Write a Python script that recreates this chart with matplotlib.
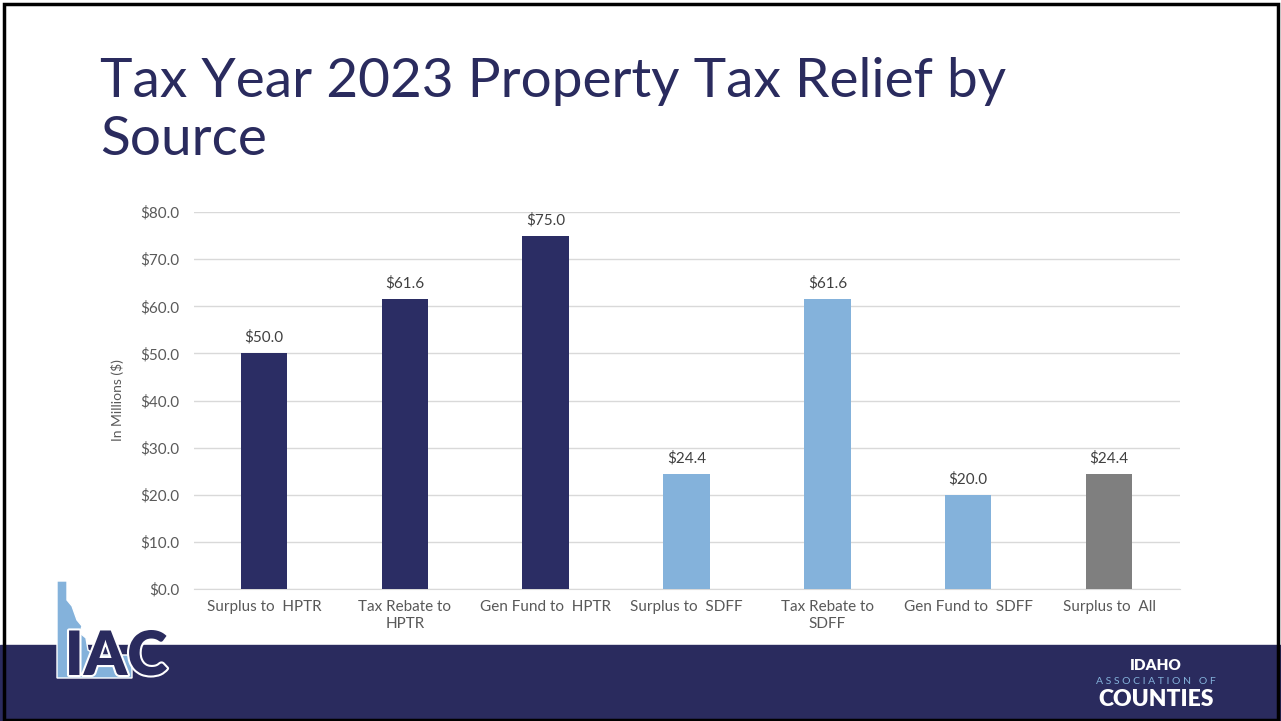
import numpy as np
import matplotlib.pyplot as plt
from matplotlib.patches import Rectangle, Polygon
import matplotlib.patheffects as pe

plt.rcParams['font.family'] = ['Lato', 'DejaVu Sans']

# dati del grafico
categorie = ["Surplus to  HPTR", "Tax Rebate to\nHPTR", "Gen Fund to  HPTR", "Surplus to  SDFF",
             "Tax Rebate to\nSDFF", "Gen Fund to  SDFF", "Surplus to  All"]
valori = [50.0, 61.6, 75.0, 24.4, 61.6, 20.0, 24.4]
colori = ['#2b2d64', '#2b2d64', '#2b2d64', '#84b2db', '#84b2db', '#84b2db', '#7f7f7f']
tick_y = [0, 10, 20, 30, 40, 50, 60, 70, 80]

navy = '#2a2b5e'
grigio = '#595959'

fig = plt.figure(figsize=(12.81, 7.21), dpi=100)
fig.patch.set_facecolor('white')

# banda in basso
fig.add_artist(Rectangle((0, 0), 1, 76 / 721, transform=fig.transFigure, color=navy, zorder=0))
# bordo
fig.add_artist(Rectangle((0.003, 0.001), 0.995, 0.993, transform=fig.transFigure, fill=False,
                         edgecolor='black', linewidth=2.5, zorder=5))

# titolo
fig.text(100 / 1281, 1 - 97 / 721, "Tax Year 2023 Property Tax Relief by", fontsize=39.6,
         color=navy, ha='left', va='baseline')
fig.text(100 / 1281, 1 - 155 / 721, "Source", fontsize=39.6, color=navy, ha='left', va='baseline')

ax = fig.add_axes([193.5 / 1281, 1 - 589 / 721, 986 / 1281, 377 / 721])
x = np.arange(len(categorie))
barre = ax.bar(x, valori, width=0.33, color=colori, zorder=3)
for b, v in zip(barre, valori):
    ax.text(b.get_x() + b.get_width() / 2, v + 1.8, f"${v:.1f}", ha='center', va='bottom',
            fontsize=11, color='#404040')

ax.set_xlim(-0.5, len(categorie) - 0.5)
ax.set_ylim(0, 80)
ax.set_yticks(tick_y)
ax.set_yticklabels([f"${t:.1f}" for t in tick_y], fontsize=11, color=grigio)
ax.set_xticks(x)
ax.set_xticklabels(categorie, fontsize=11, color=grigio, linespacing=1.3)
ax.tick_params(length=0, pad=10)
ax.tick_params(axis='x', pad=8)
ax.grid(axis='y', color='#d9d9d9', linewidth=1, zorder=0)
for s in ['top', 'right', 'left']:
    ax.spines[s].set_visible(False)
ax.spines['bottom'].set_color('#d9d9d9')
ax.set_ylabel("In Millions ($)", fontsize=10, color=grigio, labelpad=12)

# logo IAC (sagoma Idaho)
idaho = [(57, 581), (67, 581), (67, 600), (72, 606), (77, 620), (82, 626), (80, 633), (86, 638),
         (88, 650), (96, 655), (132, 655), (132, 678), (57, 678)]
fig.add_artist(Polygon([(px / 1281, 1 - py / 721) for px, py in idaho], closed=True,
                       transform=fig.transFigure, facecolor='#84b2db', edgecolor='white',
                       linewidth=1, zorder=6))
t = fig.text(116 / 1281, 1 - 657 / 721, "IAC", fontsize=44, fontweight='heavy', color=navy,
             ha='center', va='center', zorder=7)
t.set_path_effects([pe.withStroke(linewidth=3, foreground='white')])

# logo associazione
fig.text(1156 / 1281, 1 - 665 / 721, "IDAHO", fontsize=11, fontweight='heavy', color='white',
         ha='center', va='center')
fig.text(1156 / 1281, 1 - 681 / 721, "A S S O C I A T I O N   O F", fontsize=7.5, color='#84b2db',
         ha='center', va='center')
fig.text(1156 / 1281, 1 - 699 / 721, "COUNTIES", fontsize=16.5, fontweight='heavy', color='white',
         ha='center', va='center')

fig.savefig("out.png", dpi=100)
